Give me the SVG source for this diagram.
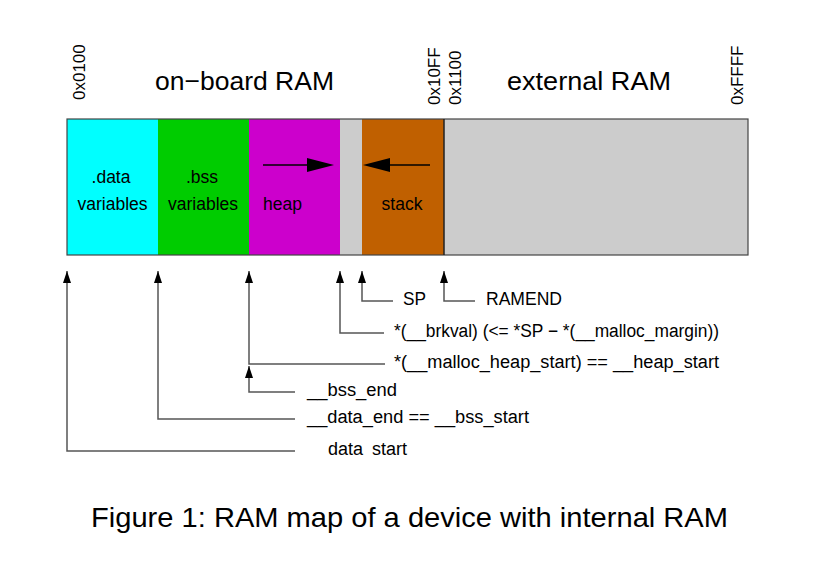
<svg xmlns="http://www.w3.org/2000/svg" width="813" height="585" viewBox="0 0 813 585">
<style>
text{font-family:"Liberation Sans",Arial,sans-serif;fill:#000}
.t{font-size:26.5px}
.a{font-size:17px}
.in{font-size:17.5px}
.lbl{font-size:18px}
.ln{fill:none;stroke:#555;stroke-width:1.5}
.bx{stroke:#444;stroke-width:1.2}
</style>
<defs>
<marker id="ah" markerWidth="9" markerHeight="13" refX="4.5" refY="0.5" orient="0" markerUnits="userSpaceOnUse" viewBox="0 0 9 13">
<path d="M4.5 0.5 L8.5 12.5 L0.5 12.5 Z" fill="#000"/>
</marker>
</defs>
<rect width="813" height="585" fill="#fff"/>
<g id="titles">
<text class="t" x="155" y="90" textLength="179" lengthAdjust="spacingAndGlyphs">on−board RAM</text>
<text class="t" x="507" y="90" textLength="164" lengthAdjust="spacingAndGlyphs">external RAM</text>
</g>
<g id="addresses">
<text class="a" transform="translate(85,100) rotate(-90)">0x0100</text>
<text class="a" transform="translate(439.5,105) rotate(-90)">0x10FF</text>
<text class="a" transform="translate(461,105) rotate(-90)">0x1100</text>
<text class="a" transform="translate(743,105) rotate(-90)">0xFFFF</text>
</g>
<g id="data">
<rect x="67" y="119" width="91" height="136" fill="#00FFFF"/>
<text class="in" x="111" y="183" text-anchor="middle">.data</text>
<text class="in" x="112.5" y="210" text-anchor="middle">variables</text>
</g>
<g id="bss">
<rect x="158" y="119" width="91" height="136" fill="#00CC00"/>
<text class="in" x="202" y="183" text-anchor="middle">.bss</text>
<text class="in" x="203" y="210" text-anchor="middle">variables</text>
</g>
<g id="heap">
<rect x="249" y="119" width="91" height="136" fill="#CC00CC"/>
<text class="in" x="263" y="210">heap</text>
<line x1="263" y1="165" x2="310" y2="165" stroke="#000" stroke-width="1.5"/>
<path d="M334 165 L307 158 L307 172 Z" fill="#000"/>
</g>
<g id="free">
<rect x="340" y="119" width="22" height="136" fill="#CCCCCC"/>
</g>
<g id="stack">
<rect x="362" y="119" width="82" height="136" fill="#C06000"/>
<text class="in" x="402" y="210" text-anchor="middle">stack</text>
<line x1="430" y1="165" x2="385" y2="165" stroke="#000" stroke-width="1.5"/>
<path d="M363 165 L390 158 L390 172 Z" fill="#000"/>
</g>
<g id="external">
<rect x="444" y="119" width="304" height="136" fill="#CCCCCC"/>
</g>
<g id="outline">
<rect x="67" y="119" width="681" height="136" fill="none" class="bx"/>
<line x1="444" y1="119" x2="444" y2="255" stroke="#222" stroke-width="1.5"/>
</g>
<g id="connectors">
<path class="ln" d="M67 271 V451 H295" marker-start="url(#ah)"/>
<path class="ln" d="M158 271 V419 H295" marker-start="url(#ah)"/>
<path class="ln" d="M249 271 V364 H385" marker-start="url(#ah)"/>
<path class="ln" d="M249 366 V392 H295" marker-start="url(#ah)"/>
<path class="ln" d="M340 271 V333 H384" marker-start="url(#ah)"/>
<path class="ln" d="M362 271 V301 H393" marker-start="url(#ah)"/>
<path class="ln" d="M444 271 V301 H475" marker-start="url(#ah)"/>
</g>
<g id="labels">
<text class="lbl" x="403" y="305" textLength="23" lengthAdjust="spacingAndGlyphs">SP</text>
<text class="lbl" x="486" y="305" textLength="76" lengthAdjust="spacingAndGlyphs">RAMEND</text>
<text class="lbl" x="394" y="337" textLength="325" lengthAdjust="spacingAndGlyphs">*(__brkval) (&lt;= *SP − *(__malloc_margin))</text>
<text class="lbl" x="394" y="368" textLength="325" lengthAdjust="spacingAndGlyphs">*(__malloc_heap_start) == __heap_start</text>
<text class="lbl" x="307" y="396" textLength="90" lengthAdjust="spacingAndGlyphs">__bss_end</text>
<text class="lbl" x="307" y="423" textLength="222" lengthAdjust="spacingAndGlyphs">__data_end == __bss_start</text>
<text class="lbl" x="328" y="455">data <tspan x="372">start</tspan></text>
</g>
<g id="caption">
<text x="91" y="527" font-size="28.5" textLength="637" lengthAdjust="spacingAndGlyphs">Figure 1: RAM map of a device with internal RAM</text>
</g>
</svg>
